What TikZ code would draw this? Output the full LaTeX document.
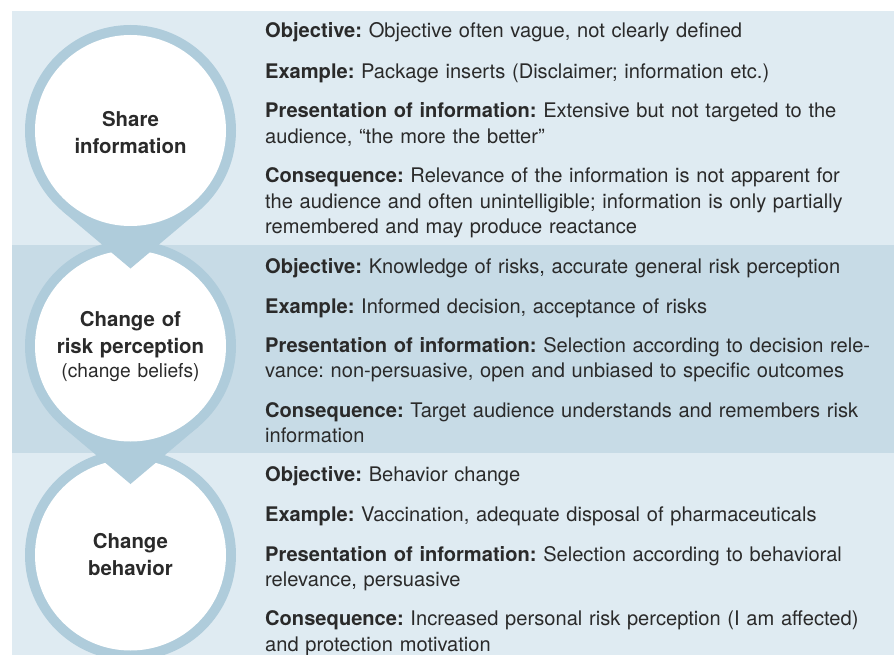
\documentclass[tikz,border=0pt]{standalone}
\usepackage{fontspec}
\setmainfont{TeX Gyre Heros}
\usetikzlibrary{calc}
\definecolor{bandlight}{HTML}{DFEBF2}
\definecolor{banddark}{HTML}{C7DBE6}
\definecolor{ring}{HTML}{AFCCDB}
\definecolor{txt}{HTML}{2A2A2A}
\frenchspacing
\tikzset{
  para/.style={anchor=base west, inner sep=0pt, text width=625pt, align=left,
    text=txt, font=\frenchspacing\fontsize{20.1}{25.5}\selectfont},
  circlbl/.style={anchor=base, inner sep=0pt, text width=200pt, align=center,
    text=txt, font=\bfseries\fontsize{20.4}{27}\selectfont},
}
\newcommand{\dropshape}[2]{% center x, center y
  \fill[ring] (#1,#2) circle[radius=105.5pt];
  \fill[ring] (#1-68.0,#2+80.7) -- (#1,#2+138) -- (#1+68.0,#2+80.7) -- cycle;
  \fill[white] (#1,#2) circle[radius=95.5pt];
}
\begin{document}
\begin{tikzpicture}[x=1pt,y=-1pt]
\useasboundingbox (0,0) rectangle (894,655);
% bands
\fill[bandlight] (12,11) rectangle (894,245);
\fill[banddark] (12,245) rectangle (894,453);
\fill[bandlight] (12,453) rectangle (894,655);
% circles
\fill[ring] (130.5,555) circle[radius=105.5pt];
\fill[white] (130.5,555) circle[radius=95.5pt];
\dropshape{130.5}{346}
\dropshape{130.5}{130.5}
% circle labels
\node[circlbl] (c1) at (130.5,126.7) {Share\\information};
\node[circlbl] (c2) at (130.5,326.7) {Change of\\risk perception\\[-3pt]{\mdseries\fontsize{19.2}{20}\selectfont (change beliefs)}};
\node[circlbl] (c3) at (130.5,548.3) {Change\\behavior};
% band 1
\node[para] (a1) at (265,37.7) {\textbf{Objective:} Objective often vague, not clearly defined};
\node[para] (a2) at (265,78.3) {\textbf{Example:} Package inserts (Disclaimer; information etc.)};
\node[para] (a3) at (265,117.7) {\textbf{Presentation of information:} Extensive but not targeted to the\\audience, “the more the better”};
\node[para] (a4) at (265,182.7) {\textbf{Consequence:} Relevance of the information is not apparent for\\the audience and often unintelligible; information is only partially\\remembered and may produce reactance};
% band 2
\node[para] (b1) at (265,273.3) {\textbf{Objective:} Knowledge of risks, accurate general risk perception};
\node[para] (b2) at (265,313.3) {\textbf{Example:} Informed decision, acceptance of risks};
\node[para] (b3) at (265,352.3) {\textbf{Presentation of information:} Selection according to decision rele-\\vance: non-persuasive, open and unbiased to specific outcomes};
\node[para] (b4) at (265,417.3) {\textbf{Consequence:} Target audience understands and remembers risk\\information};
% band 3
\node[para] (d1) at (265,481.7) {\textbf{Objective:} Behavior change};
\node[para] (d2) at (265,521.7) {\textbf{Example:} Vaccination, adequate disposal of pharmaceuticals};
\node[para] (d3) at (265,561) {\textbf{Presentation of information:} Selection according to behavioral\\relevance, persuasive};
\node[para] (d4) at (265,625.7) {\textbf{Consequence:} Increased personal risk perception (I am affected)\\and protection motivation};
\end{tikzpicture}
\end{document}
